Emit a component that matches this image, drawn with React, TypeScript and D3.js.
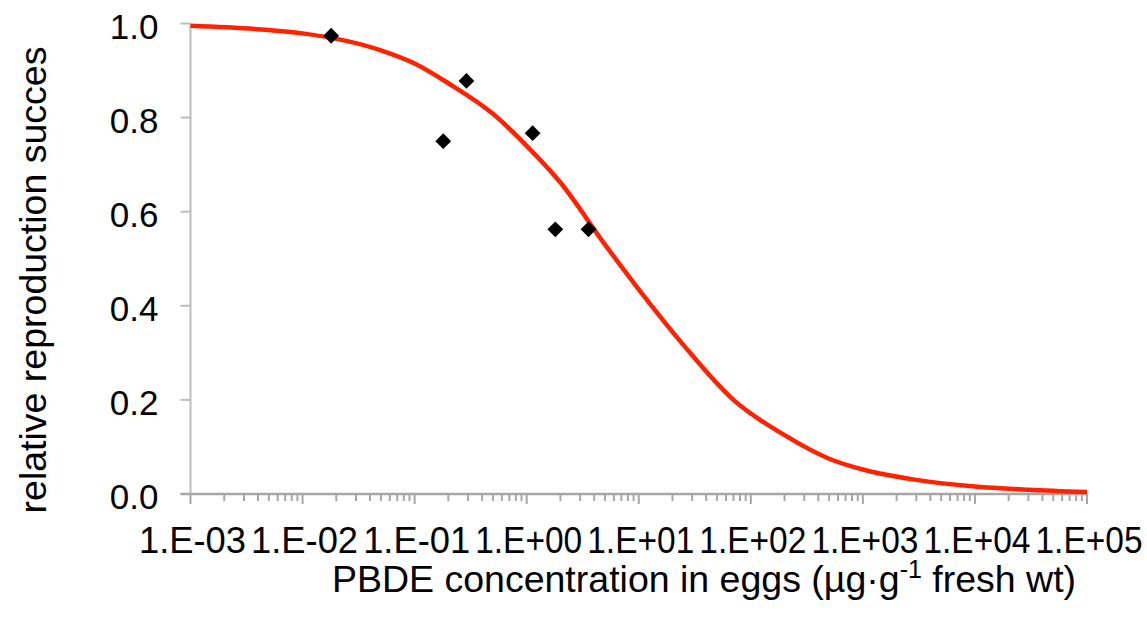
import React, { useEffect, useRef } from 'react';
import * as d3 from 'd3';

// fitted curve (concentration, relative success)
const curveX = [0.001, 0.005, 0.01, 0.05, 0.1, 0.2, 0.5, 1, 2, 5, 10, 25, 70, 200, 500, 1000, 3000, 10000, 30000, 100000];
const curveY = [0.995, 0.986, 0.979, 0.943, 0.915, 0.873, 0.808, 0.740, 0.662, 0.530, 0.435, 0.317, 0.200, 0.125, 0.075, 0.052, 0.030, 0.016, 0.009, 0.004];

// observed points
const obsX = [0.018, 0.18, 0.29, 1.13, 1.8, 3.56];
const obsY = [0.974, 0.750, 0.878, 0.767, 0.5625, 0.5625];

const xTicks = [1e-3, 1e-2, 1e-1, 1e0, 1e1, 1e2, 1e3, 1e4, 1e5];
const xTickLabels = ['1.E-03', '1.E-02', '1.E-01', '1.E+00', '1.E+01', '1.E+02', '1.E+03', '1.E+04', '1.E+05'];
const yTicks = [0, 0.2, 0.4, 0.6, 0.8, 1.0];

const App = () => {
  const ref = useRef<SVGSVGElement>(null);

  useEffect(() => {
    const totalWidth = 1147;
    const totalHeight = 624;
    const margin = { top: 23.5, right: 60, bottom: 130, left: 190.5 };
    const width = 1087 - margin.left;
    const height = 494 - margin.top;

    const svg = d3.select(ref.current);
    svg.selectAll('*').remove();
    svg.attr('width', totalWidth).attr('height', totalHeight);

    const xScale = d3.scaleLog().domain([1e-3, 1e5]).range([0, width]);
    const yScale = d3.scaleLinear().domain([0, 1]).range([height, 0]);

    const g = svg.append('g').attr('transform', `translate(${margin.left},${margin.top})`);
    const font = 'Liberation Sans, Arial, sans-serif';

    // y axis
    g.append('line')
      .attr('x1', 0).attr('x2', 0)
      .attr('y1', yScale(1)).attr('y2', yScale(0))
      .style('stroke', '#bdbdbd').style('stroke-width', 2);
    g.selectAll('.ytick').data(yTicks).enter().append('line')
      .attr('x1', -10).attr('x2', 0)
      .attr('y1', d => yScale(d)).attr('y2', d => yScale(d))
      .style('stroke', '#bdbdbd').style('stroke-width', 2);
    g.selectAll('.ylab').data(yTicks).enter().append('text')
      .attr('x', -32)
      .attr('y', d => yScale(d) + 2.5)
      .attr('dy', '0.36em')
      .attr('text-anchor', 'end')
      .text(d => d.toFixed(1))
      .style('font-family', font)
      .style('font-size', '35px')
      .style('fill', '#000');

    // x axis with log minor ticks
    const minor: number[] = [];
    for (let e = -3; e < 5; e++) {
      for (let m = 2; m < 10; m++) minor.push(m * Math.pow(10, e));
    }
    g.selectAll('.xminor').data(minor).enter().append('line')
      .attr('x1', d => xScale(d)).attr('x2', d => xScale(d))
      .attr('y1', height).attr('y2', height + 7)
      .style('stroke', '#a6a6a6').style('stroke-width', 2);
    g.selectAll('.xmajor').data(xTicks).enter().append('line')
      .attr('x1', d => xScale(d)).attr('x2', d => xScale(d))
      .attr('y1', height).attr('y2', height + 10)
      .style('stroke', '#a6a6a6').style('stroke-width', 2);
    g.append('line')
      .attr('x1', -10).attr('x2', width)
      .attr('y1', height).attr('y2', height)
      .style('stroke', '#a6a6a6').style('stroke-width', 2.5);
    g.selectAll('.xlab').data(xTicks).enter().append('text')
      .attr('x', d => xScale(d) + 2)
      .attr('y', height + 59)
      .attr('text-anchor', 'middle')
      .attr('textLength', 107)
      .attr('lengthAdjust', 'spacingAndGlyphs')
      .text((d, i) => xTickLabels[i])
      .style('font-family', font)
      .style('font-size', '37px')
      .style('fill', '#000');

    // fitted curve
    const line = d3.line<number>()
      .x((d, i) => xScale(curveX[i]))
      .y(d => yScale(d))
      .curve(d3.curveMonotoneX);
    g.append('path')
      .datum(curveY)
      .attr('d', line)
      .style('fill', 'none')
      .style('stroke', '#ff2200')
      .style('stroke-width', 4.5);

    // observations
    const diamond = d3.symbol().type(d3.symbolSquare).size(125);
    g.selectAll('.pt').data(obsY).enter().append('path')
      .attr('d', diamond)
      .attr('transform', (d, i) => `translate(${xScale(obsX[i])},${yScale(d)}) rotate(45)`)
      .style('fill', '#000');

    // axis titles
    const xt = svg.append('text')
      .attr('x', 704)
      .attr('y', 592)
      .attr('text-anchor', 'middle')
      .style('font-family', font)
      .style('font-size', '37.5px')
      .style('fill', '#000');
    xt.append('tspan').text('PBDE concentration in eggs (\u00b5g\u00b7g');
    xt.append('tspan').attr('dy', -14).style('font-size', '25px').text('-1');
    xt.append('tspan').attr('dy', 14).text(' fresh wt)');

    svg.append('text')
      .attr('transform', 'rotate(-90)')
      .attr('x', -280)
      .attr('y', 46)
      .attr('text-anchor', 'middle')
      .text('relative reproduction succes')
      .style('font-family', font)
      .style('font-size', '37.5px')
      .style('fill', '#000');
  }, []);

  return (
    <svg ref={ref} style={{ position: 'absolute', left: 0, top: 0 }} />
  );
};

export default App;
